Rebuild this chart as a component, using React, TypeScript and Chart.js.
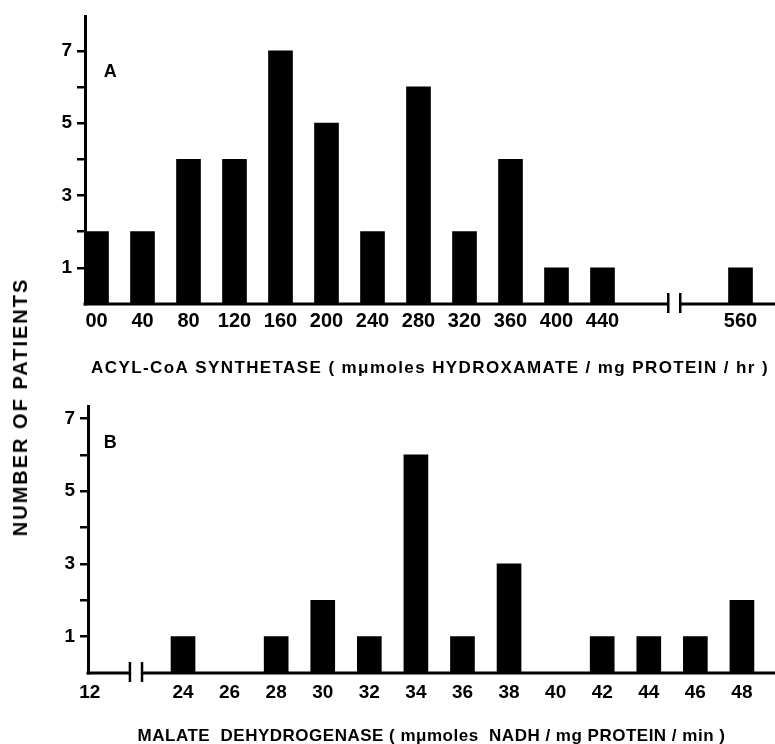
import React, { useEffect, useRef } from "react";
import { Chart, registerables } from "chart.js";

Chart.register(...registerables);

// ---------- data ----------
const labelsA = ["00", "40", "80", "120", "160", "200", "240", "280", "320", "360", "400", "440", "", "", "560"];
const countsA: (number | null)[] = [2, 2, 4, 4, 7, 5, 2, 6, 2, 4, 1, 1, null, null, 1];

const labelsB = ["12", "", "24", "26", "28", "30", "32", "34", "36", "38", "40", "42", "44", "46", "48"];
const countsB: (number | null)[] = [null, null, 1, null, 1, 2, 1, 6, 1, 3, null, 1, 1, 1, 2];

const yTickValues = [1, 2, 3, 4, 5, 6, 7];
const yTickLabeled = [1, 3, 5, 7];

const titleA = "ACYL-CoA SYNTHETASE ( mμmoles HYDROXAMATE / mg PROTEIN / hr )";
const titleB = "MALATE  DEHYDROGENASE ( mμmoles  NADH / mg PROTEIN / min )";
const yTitle = "NUMBER OF PATIENTS";

const FONT = '"Liberation Sans", Arial, sans-serif';

type PanelCfg = {
  labels: string[];
  counts: (number | null)[];
  letter: string;
  letterAt: [number, number];
  xMin: number;
  xMax: number;
  yMax: number;
  breakAt: number;
  breakHalf: number;
  axisLeft: number;
  canvasH: number;
  plotTop: number;
  plotBottom: number;
  xFontSize: number;
  xPad: number;
  title: string;
  titleY: number;
  titleSpacing: number;
};

const decorPlugin = {
  id: "decor",
  afterDraw(chart: any, _args: any, opts: any) {
    const ctx = chart.ctx as CanvasRenderingContext2D;
    const { left, right } = chart.chartArea;
    const xs = chart.scales.x;
    const ys = chart.scales.y;
    const y0 = ys.getPixelForValue(0);
    const b1 = xs.getPixelForValue(opts.breakAt - opts.breakHalf);
    const b2 = xs.getPixelForValue(opts.breakAt + opts.breakHalf);
    ctx.save();
    ctx.strokeStyle = "#000";
    ctx.lineWidth = 3;
    ctx.beginPath();
    ctx.moveTo(left - 1.5, y0);
    ctx.lineTo(b1, y0);
    ctx.moveTo(b2, y0);
    ctx.lineTo(right, y0);
    ctx.stroke();
    ctx.lineWidth = 2.5;
    ctx.beginPath();
    ctx.moveTo(b1, y0 - 11);
    ctx.lineTo(b1, y0 + 9);
    ctx.moveTo(b2, y0 - 11);
    ctx.lineTo(b2, y0 + 9);
    ctx.stroke();
    ctx.fillStyle = "#000";
    ctx.textAlign = "center";
    ctx.textBaseline = "middle";
    ctx.font = `bold 18px ${FONT}`;
    ctx.fillText(opts.letter, xs.getPixelForValue(opts.letterAt[0]), ys.getPixelForValue(opts.letterAt[1]));
    ctx.font = `bold 17px ${FONT}`;
    (ctx as any).letterSpacing = `${opts.titleSpacing}px`;
    ctx.fillText(opts.title, (left + right) / 2, opts.titleY);
    ctx.restore();
  },
};

function Panel({ cfg }: { cfg: PanelCfg }) {
  const ref = useRef<HTMLCanvasElement | null>(null);
  useEffect(() => {
    if (!ref.current) return;
    const data = cfg.counts
      .map((v, i) => ({ x: i, y: v }))
      .filter((d) => d.y !== null) as { x: number; y: number }[];
    const chart = new Chart(ref.current, {
      type: "bar",
      data: {
        datasets: [
          {
            data,
            backgroundColor: "#000",
            borderWidth: 0,
            barThickness: 24,
          } as any,
        ],
      },
      plugins: [decorPlugin as any],
      options: {
        responsive: false,
        animation: false,
        layout: { padding: { top: cfg.plotTop, left: 0, right: 0, bottom: 0 } },
        plugins: {
          legend: { display: false },
          tooltip: { enabled: false },
          decor: {
            letter: cfg.letter,
            letterAt: cfg.letterAt,
            breakAt: cfg.breakAt,
            breakHalf: cfg.breakHalf,
            title: cfg.title,
            titleY: cfg.titleY,
            titleSpacing: cfg.titleSpacing,
          },
        } as any,
        scales: {
          x: {
            type: "linear",
            offset: false,
            min: cfg.xMin,
            max: cfg.xMax,
            afterBuildTicks: (axis: any) => {
              axis.ticks = cfg.labels.map((_, i) => ({ value: i }));
            },
            afterFit: (axis: any) => {
              axis.height = cfg.canvasH - cfg.plotBottom;
            },
            ticks: {
              autoSkip: false,
              maxRotation: 0,
              color: "#000",
              padding: cfg.xPad,
              font: { family: FONT, size: cfg.xFontSize, weight: "bold" },
              callback: (v: any) => cfg.labels[v] ?? "",
            },
            grid: { display: false, drawTicks: false },
            border: { display: false },
          },
          y: {
            type: "linear",
            min: 0,
            max: cfg.yMax,
            afterBuildTicks: (axis: any) => {
              axis.ticks = yTickValues.map((v) => ({ value: v }));
            },
            afterFit: (axis: any) => {
              axis.width = cfg.axisLeft;
            },
            ticks: {
              color: "#000",
              padding: 5,
              font: { family: FONT, size: 19, weight: "bold" },
              callback: (v: any) => (yTickLabeled.includes(v) ? String(v) : ""),
            },
            grid: {
              drawOnChartArea: false,
              drawTicks: true,
              tickLength: 8,
              color: "#000",
              lineWidth: 2.5,
            },
            border: { display: true, color: "#000", width: 3 },
          },
        },
      } as any,
    });
    return () => chart.destroy();
  }, [cfg]);
  return (
    <canvas
      ref={ref}
      width={775}
      height={cfg.canvasH}
      style={{ display: "block", width: 775, height: cfg.canvasH }}
    />
  );
}

const panelA: PanelCfg = {
  labels: labelsA,
  counts: countsA,
  letter: "A",
  letterAt: [0.3, 6.4],
  xMin: -0.25,
  xMax: 14.75,
  yMax: 7.95,
  breakAt: 12.56,
  breakHalf: 0.13,
  axisLeft: 85,
  canvasH: 390,
  plotTop: 15,
  plotBottom: 304,
  xFontSize: 20,
  xPad: 5,
  title: titleA,
  titleY: 368,
  titleSpacing: 1.4,
};

const panelB: PanelCfg = {
  labels: labelsB,
  counts: countsB,
  letter: "B",
  letterAt: [0.44, 6.33],
  xMin: -0.04,
  xMax: 14.71,
  yMax: 7.33,
  breakAt: 0.99,
  breakHalf: 0.13,
  axisLeft: 88,
  canvasH: 354,
  plotTop: 15,
  plotBottom: 283,
  xFontSize: 19,
  xPad: 8,
  title: titleB,
  titleY: 346,
  titleSpacing: 0.5,
};

export default function App() {
  return (
    <div
      style={{
        position: "absolute",
        left: 0,
        top: 0,
        width: 775,
        height: 744,
        background: "#fff",
        overflow: "hidden",
      }}
    >
      <div style={{ position: "absolute", left: 0, top: 0 }}>
        <Panel cfg={panelA} />
      </div>
      <div style={{ position: "absolute", left: 0, top: 390 }}>
        <Panel cfg={panelB} />
      </div>
      <div
        style={{
          position: "absolute",
          left: 20,
          top: 407,
          transform: "translate(-50%, -50%) rotate(-90deg)",
          whiteSpace: "nowrap",
          fontFamily: FONT,
          fontWeight: "bold",
          fontSize: 20,
          letterSpacing: "2px",
          lineHeight: "20px",
          color: "#000",
        }}
      >
        {yTitle}
      </div>
    </div>
  );
}
